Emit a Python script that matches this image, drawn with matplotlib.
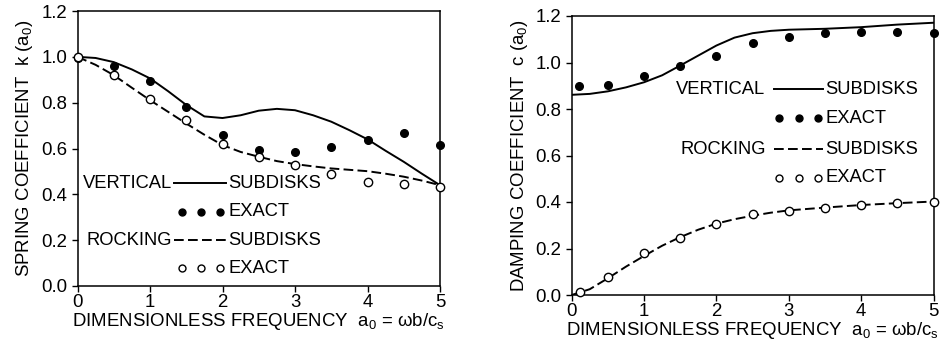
import matplotlib
matplotlib.use("Agg")
import matplotlib.pyplot as plt

plt.rcParams['font.family'] = ['Liberation Sans', 'DejaVu Sans']
plt.rcParams['mathtext.fontset'] = 'custom'
plt.rcParams['mathtext.rm'] = 'Liberation Sans'
plt.rcParams['mathtext.it'] = 'Liberation Sans'

# ---------------- Spring coefficient (left) ----------------
k_exact_x = [0, 0.5, 1.0, 1.5, 2.0, 2.5, 3.0, 3.5, 4.0, 4.5, 5.0]
k_vert_exact = [0.995, 0.961, 0.894, 0.779, 0.658, 0.592, 0.586, 0.606, 0.635, 0.667, 0.616]
k_rock_exact = [1.0, 0.921, 0.817, 0.724, 0.619, 0.564, 0.528, 0.488, 0.452, 0.443, 0.433]

k_line_x = [0, 0.25, 0.5, 0.75, 1.0, 1.25, 1.5, 1.75, 2.0, 2.25, 2.5, 2.75,
            3.0, 3.25, 3.5, 3.75, 4.0, 4.25, 4.5, 4.75, 5.0]
k_vert_sub = [1.0, 0.995, 0.977, 0.945, 0.906, 0.85, 0.79, 0.74, 0.733, 0.745, 0.765, 0.773,
              0.767, 0.745, 0.717, 0.68, 0.64, 0.59, 0.542, 0.49, 0.44]
k_rock_sub = [1.0, 0.965, 0.92, 0.865, 0.811, 0.76, 0.709, 0.66, 0.615, 0.585, 0.564, 0.545,
              0.532, 0.522, 0.513, 0.507, 0.501, 0.49, 0.477, 0.46, 0.44]

# ---------------- Damping coefficient (right) ----------------
c_vert_exact_x = [0.1, 0.5, 1.0, 1.5, 2.0, 2.5, 3.0, 3.5, 4.0, 4.5, 5.0]
c_vert_exact = [0.897, 0.905, 0.942, 0.987, 1.027, 1.086, 1.109, 1.129, 1.132, 1.131, 1.125]
c_rock_exact_x = [0.12, 0.5, 1.0, 1.5, 2.0, 2.5, 3.0, 3.5, 4.0, 4.5, 5.0]
c_rock_exact = [0.014, 0.076, 0.18, 0.245, 0.307, 0.349, 0.362, 0.376, 0.389, 0.396, 0.402]

c_line_x = [0, 0.25, 0.5, 0.75, 1.0, 1.25, 1.5, 1.75, 2.0, 2.25, 2.5, 2.75,
            3.0, 3.5, 4.0, 4.5, 5.0]
c_vert_sub = [0.861, 0.865, 0.876, 0.893, 0.915, 0.945, 0.987, 1.03, 1.073, 1.107, 1.126, 1.136,
              1.141, 1.145, 1.152, 1.163, 1.171]
c_rock_sub = [0.0, 0.025, 0.072, 0.122, 0.168, 0.212, 0.249, 0.281, 0.307, 0.326, 0.341, 0.354,
              0.364, 0.376, 0.387, 0.395, 0.402]

x_ticks = [0, 1, 2, 3, 4, 5]
y_ticks = [0.0, 0.2, 0.4, 0.6, 0.8, 1.0, 1.2]
y_ticklabels = ['0.0', '0.2', '0.4', '0.6', '0.8', '1.0', '1.2']

FS = 13.2
LFS = 13.4
fig = plt.figure(figsize=(9.42, 3.47), dpi=100)
axL = fig.add_axes([77.5/942, 1-286/347, (440-77.5)/942, (286-11)/347])
axR = fig.add_axes([571.7/942, 1-295/347, (933.5-571.7)/942, (295-16)/347])

dash = (0, (5.0, 2.2))

def style(ax, ylabel):
    ax.set_xlim(0, 5)
    ax.set_ylim(0, 1.2)
    ax.set_xticks(x_ticks)
    ax.set_yticks(y_ticks)
    ax.set_yticklabels(y_ticklabels)
    ax.tick_params(direction='out', length=4, width=1, labelsize=LFS, pad=3.5, colors='black')
    ax.tick_params(axis='x', pad=2)
    for s in ax.spines.values():
        s.set_linewidth(1.1)
    ax.set_xlabel(r'DIMENSIONLESS FREQUENCY  a$_0$ = $\omega$b/c$_\mathrm{s}$', fontsize=LFS, labelpad=0)
    ax.set_ylabel(ylabel, fontsize=LFS, labelpad=4)

def legend(ax, xtxt_end, xline0, xline1, xsub, ys, dots_x):
    yv, yve, yr, yre = ys
    ax.text(xtxt_end, yv, 'VERTICAL', ha='right', va='center', fontsize=FS)
    ax.plot([xline0, xline1], [yv, yv], color='black', lw=1.4)
    ax.text(xsub, yv, 'SUBDISKS', ha='left', va='center', fontsize=FS)
    ax.plot(dots_x, [yve]*3, 'o', color='black', ms=5)
    ax.text(xsub, yve, 'EXACT', ha='left', va='center', fontsize=FS)
    ax.text(xtxt_end, yr, 'ROCKING', ha='right', va='center', fontsize=FS)
    ax.plot([xline0, xline1], [yr, yr], color='black', lw=1.4, linestyle=dash)
    ax.text(xsub, yr, 'SUBDISKS', ha='left', va='center', fontsize=FS)
    ax.plot(dots_x, [yre]*3, 'o', mfc='white', mec='black', mew=1.0, ms=5)
    ax.text(xsub, yre, 'EXACT', ha='left', va='center', fontsize=FS)

# Left panel
axL.plot(k_line_x, k_vert_sub, color='black', lw=1.4)
axL.plot(k_line_x, k_rock_sub, color='black', lw=1.4, linestyle=dash)
axL.plot(k_exact_x, k_vert_exact, 'o', color='black', ms=5.5, clip_on=False, zorder=5)
axL.plot(k_exact_x, k_rock_exact, 'o', mfc='white', mec='black', mew=1.0, ms=6, clip_on=False, zorder=6)
style(axL, r'SPRING COEFFICIENT  k (a$_0$)')
legend(axL, 1.30, 1.33, 2.05, 2.08, (0.449, 0.323, 0.20, 0.078), [1.44, 1.70, 1.97])

# Right panel
axR.plot(c_line_x, c_vert_sub, color='black', lw=1.4)
axR.plot(c_line_x, c_rock_sub, color='black', lw=1.4, linestyle=dash)
axR.plot(c_vert_exact_x, c_vert_exact, 'o', color='black', ms=5.5, clip_on=False, zorder=5)
axR.plot(c_rock_exact_x, c_rock_exact, 'o', mfc='white', mec='black', mew=1.0, ms=6, clip_on=False, zorder=6)
style(axR, r'DAMPING COEFFICIENT  c (a$_0$)')
legend(axR, 2.68, 2.80, 3.47, 3.51, (0.886, 0.76, 0.627, 0.505), [2.86, 3.14, 3.41])

fig.savefig('out.png', dpi=100)
